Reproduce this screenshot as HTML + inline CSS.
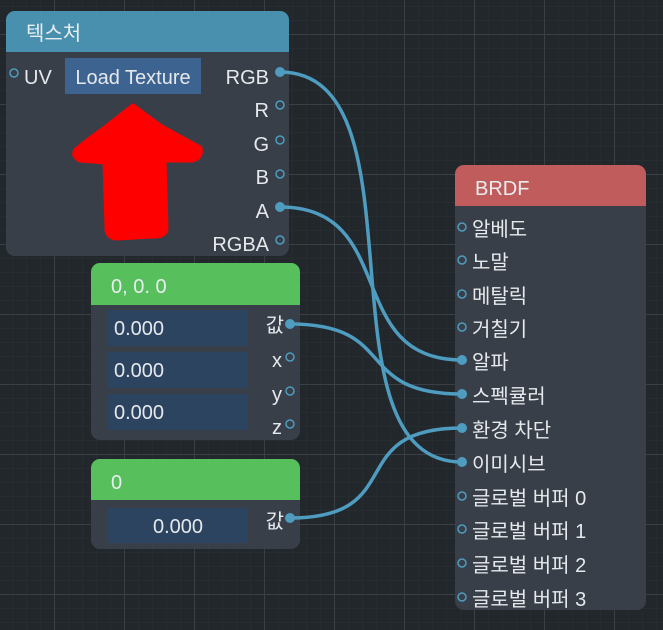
<!DOCTYPE html>
<html><head><meta charset="utf-8"><style>
body{margin:0;width:663px;height:630px;overflow:hidden;background:#22272b;font-family:"Liberation Sans","Noto Sans CJK KR",sans-serif;}
.bg{position:absolute;left:0;top:0;width:663px;height:630px;
background-image:
linear-gradient(to right,#3a3f44 1px,transparent 1px),
linear-gradient(to bottom,#3a3f44 1px,transparent 1px),
linear-gradient(to right,#272c30 1px,transparent 1px),
linear-gradient(to bottom,#272c30 1px,transparent 1px);
background-size:70px 70px,70px 70px,14px 14px,14px 14px;
background-position:54px 34px,54px 34px,54px 34px,54px 34px;}
.node{position:absolute;background:#383f49;border-radius:9px;overflow:hidden;}
.hdr{position:absolute;left:0;right:0;top:0;color:#e8eef0;font-size:20px;padding-left:20px;box-sizing:border-box;}
.t{position:absolute;color:#e6e9ec;font-size:20px;line-height:22px;white-space:nowrap;}
.f{position:absolute;background:#2d4461;color:#e6e9ec;font-size:20px;line-height:38px;}
svg{position:absolute;left:0;top:0}
</style></head><body>
<div class="bg"></div>
<div class="node" style="left:6px;top:11px;width:283px;height:245px">
 <div class="hdr" style="height:41px;background:#4890ae;line-height:46px">텍스처</div>
 <div class="t" style="left:18px;top:56px">UV</div>
 <div style="position:absolute;left:59px;top:47px;width:136px;height:36px;background:#3d6391;color:#e6e9ec;font-size:20px;line-height:40px;text-align:center">Load Texture</div>
 <div class="t" style="right:20px;top:56px">RGB</div>
 <div class="t" style="right:20px;top:89px">R</div>
 <div class="t" style="right:20px;top:123px">G</div>
 <div class="t" style="right:20px;top:156px">B</div>
 <div class="t" style="right:20px;top:190px">A</div>
 <div class="t" style="right:20px;top:223px">RGBA</div>
</div>
<div class="node" style="left:91px;top:263px;width:209px;height:177px">
 <div class="hdr" style="height:42px;background:#58bf5d;line-height:48px">0, 0. 0</div>
 <div class="f" style="left:17px;top:47px;width:140px;height:36px;padding-left:6px;box-sizing:border-box">0.000</div>
 <div class="f" style="left:17px;top:89px;width:140px;height:36px;padding-left:6px;box-sizing:border-box">0.000</div>
 <div class="f" style="left:17px;top:131px;width:140px;height:36px;padding-left:6px;box-sizing:border-box">0.000</div>
 <div class="t" style="right:16px;top:52px">값</div>
 <div class="t" style="right:18px;top:87px">x</div>
 <div class="t" style="right:18px;top:121px">y</div>
 <div class="t" style="right:18px;top:154px">z</div>
</div>
<div class="node" style="left:91px;top:459px;width:209px;height:90px">
 <div class="hdr" style="height:41px;background:#58bf5d;line-height:48px">0</div>
 <div class="f" style="left:17px;top:49px;width:140px;height:35px;text-align:center">0.000</div>
 <div class="t" style="right:16px;top:52px">값</div>
</div>
<div class="node" style="left:455px;top:165px;width:191px;height:445px">
 <div class="hdr" style="height:41px;background:#c05c5c;line-height:48px">BRDF</div>
 <div class="t" style="left:17px;top:54px">알베도</div>
 <div class="t" style="left:17px;top:87px">노말</div>
 <div class="t" style="left:17px;top:121px">메탈릭</div>
 <div class="t" style="left:17px;top:154px">거칠기</div>
 <div class="t" style="left:17px;top:187px">알파</div>
 <div class="t" style="left:17px;top:221px">스펙큘러</div>
 <div class="t" style="left:17px;top:255px">환경 차단</div>
 <div class="t" style="left:17px;top:289px">이미시브</div>
 <div class="t" style="left:17px;top:323px">글로벌 버퍼 0</div>
 <div class="t" style="left:17px;top:356px">글로벌 버퍼 1</div>
 <div class="t" style="left:17px;top:390px">글로벌 버퍼 2</div>
 <div class="t" style="left:17px;top:424px">글로벌 버퍼 3</div>
</div>
<svg width="663" height="630">
 <path d="M76 150 Q88 140 105 128 L133 106 L160 126 Q185 140 200 148 Q202 158 192 160 L164 160 L166 228 Q166 237 150 236 L118 238 Q106 238 107 226 L105 162 L80 160 Q72 156 76 150 Z" fill="#f00" stroke="#f00" stroke-width="5" stroke-linejoin="round"/>
 <g fill="none" stroke="#4e9cc0" stroke-width="3.5">
  <path d="M280 72 C430 72 312 462 462 462"/>
  <path d="M280 207 C400 207 342 360 462 360"/>
  <path d="M290 324 C400 324 352 394 462 394"/>
  <path d="M290 518 C410 518 342 428 462 428"/>
 </g>
 <g fill="#4e9cc0">
  <circle cx="280" cy="72" r="5"/><circle cx="280" cy="207" r="5"/>
  <circle cx="290" cy="324" r="5"/><circle cx="290" cy="518" r="5"/>
  <circle cx="462" cy="360" r="5"/><circle cx="462" cy="394" r="5"/>
  <circle cx="462" cy="428" r="5"/><circle cx="462" cy="462" r="5"/>
 </g>
 <g fill="none" stroke="#4e9cc0" stroke-width="1.5">
  <circle cx="14" cy="73" r="4"/>
  <circle cx="280" cy="105" r="4"/><circle cx="280" cy="140" r="4"/><circle cx="280" cy="174" r="4"/><circle cx="280" cy="240" r="4"/>
  <circle cx="290" cy="357" r="4"/><circle cx="290" cy="391" r="4"/><circle cx="290" cy="424" r="4"/>
  <circle cx="462" cy="227" r="4"/><circle cx="462" cy="260" r="4"/><circle cx="462" cy="294" r="4"/><circle cx="462" cy="327" r="4"/>
  <circle cx="462" cy="496" r="4"/><circle cx="462" cy="529" r="4"/><circle cx="462" cy="563" r="4"/><circle cx="462" cy="597" r="4"/>
 </g>
</svg>
</body></html>
